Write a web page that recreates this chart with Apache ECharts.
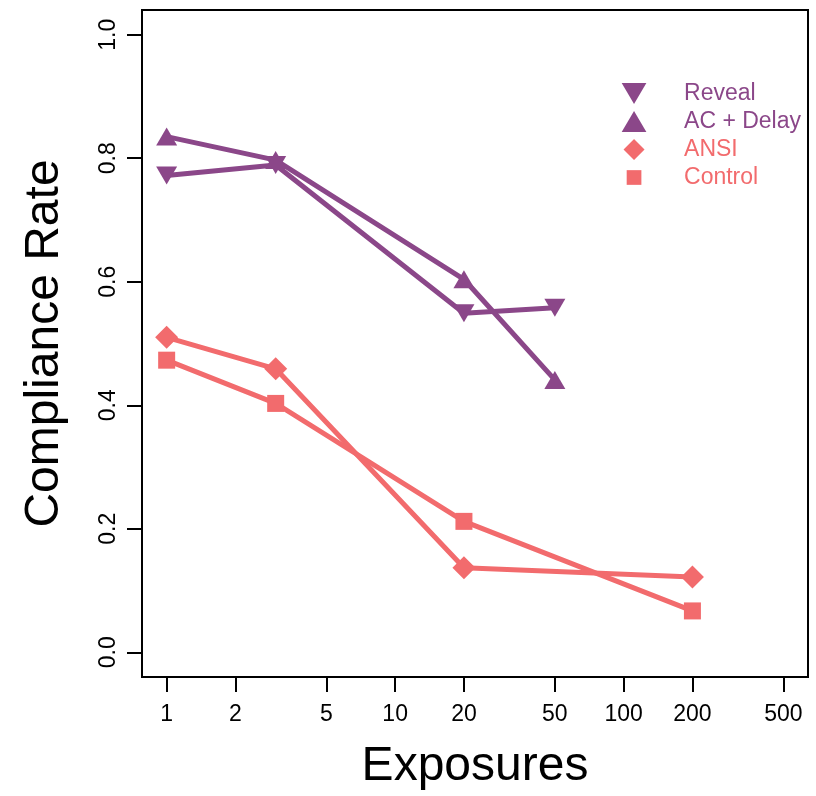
<!DOCTYPE html>
<html>
<head>
<meta charset="utf-8">
<script src="https://cdn.jsdelivr.net/npm/echarts@6/dist/echarts.min.js"></script>
<style>
  html, body { margin: 0; padding: 0; background: #fff; }
  #chart { width: 816px; height: 796px; }
</style>
</head>
<body>
<div id="chart"></div>
<script>
// exposures on x, compliance rate on y
const revealX = [1, 3, 20, 50];
const revealY = [0.772, 0.789, 0.549, 0.558];
const acDelayX = [1, 3, 20, 50];
const acDelayY = [0.835, 0.797, 0.604, 0.441];
const ansiX = [1, 3, 20, 200];
const ansiY = [0.510, 0.459, 0.137, 0.122];
const controlX = [1, 3, 20, 200];
const controlY = [0.473, 0.403, 0.212, 0.067];

const xTicks = [1, 2, 5, 10, 20, 50, 100, 200, 500];
const yTicks = [0, 0.2, 0.4, 0.6, 0.8, 1.0];

const purple = '#8b4789';
const coral = '#f26b6d';
const font = '"Liberation Sans", Arial, Helvetica, sans-serif';

// marker shapes (paths so the legend keeps their aspect)
const downTri = 'path://M0,0L20,0L10,17Z';
const upTri = 'path://M10,0L20,17L0,17Z';
const diamond = 'path://M10,0L20,10L10,20L0,10Z';
const legendSquare = 'path://M0,0M20,20M3,3L17,3L17,17L3,17Z';

const zip = (xs, ys) => xs.map((x, i) => [x, ys[i]]);

const chart = echarts.init(document.getElementById('chart'), null, { renderer: 'canvas' });

function mkSeries(name, xs, ys, color, symbol, size) {
    return {
        name: name,
        type: 'line',
        data: zip(xs, ys),
        symbol: symbol,
        symbolSize: size,
        showAllSymbol: true,
        lineStyle: { color: color, width: 5, cap: 'round', join: 'round' },
        itemStyle: { color: color },
        emphasis: { disabled: true },
        animation: false
    };
}

const option = {
    backgroundColor: '#fff',
    animation: false,
    textStyle: { fontFamily: font },
    grid: {
        left: 142, top: 10, width: 666, height: 667,
        show: true, borderColor: '#000', borderWidth: 2,
        containLabel: false
    },
    legend: {
        orient: 'vertical',
        right: 10, top: 77,
        itemWidth: 90, itemHeight: 21, itemGap: 5,
        symbolKeepAspect: true,
        textStyle: { fontSize: 23, fontFamily: font },
        data: [
            { name: 'Reveal', icon: downTri, textStyle: { color: purple } },
            { name: 'AC + Delay', icon: upTri, textStyle: { color: purple } },
            { name: 'ANSI', icon: diamond, textStyle: { color: coral } },
            { name: 'Control', icon: legendSquare, textStyle: { color: coral } }
        ]
    },
    xAxis: {
        type: 'log',
        logBase: 10,
        min: 0.78,
        max: 641,
        name: 'Exposures',
        nameLocation: 'middle',
        nameGap: 66,
        nameTextStyle: { fontSize: 48, color: '#000', fontFamily: font },
        axisLine: { show: true, onZero: false, lineStyle: { color: '#000', width: 2 } },
        axisTick: { show: true, customValues: xTicks, length: 15, inside: false, lineStyle: { color: '#000', width: 2 } },
        axisLabel: {
            customValues: xTicks,
            formatter: v => String(v),
            fontSize: 23, color: '#000', margin: 26, fontFamily: font
        },
        splitLine: { show: false },
        minorTick: { show: false }
    },
    yAxis: {
        type: 'value',
        min: -0.04,
        max: 1.04,
        name: 'Compliance Rate',
        nameLocation: 'middle',
        nameRotate: 90,
        nameGap: 73,
        nameTextStyle: { fontSize: 48, color: '#000', fontFamily: font },
        axisLine: { show: true, onZero: false, lineStyle: { color: '#000', width: 2 } },
        axisTick: { show: true, customValues: yTicks, length: 15, inside: false, lineStyle: { color: '#000', width: 2 } },
        axisLabel: {
            customValues: yTicks,
            rotate: 90,
            formatter: v => Number(v).toFixed(1),
            fontSize: 23, color: '#000', margin: 22, fontFamily: font
        },
        splitLine: { show: false }
    },
    series: [
        mkSeries('Reveal', revealX, revealY, purple, downTri, [21, 18]),
        mkSeries('AC + Delay', acDelayX, acDelayY, purple, upTri, [21, 18]),
        mkSeries('ANSI', ansiX, ansiY, coral, diamond, [23, 23]),
        mkSeries('Control', controlX, controlY, coral, 'rect', [17, 17])
    ]
};

chart.setOption(option);
</script>
</body>
</html>
